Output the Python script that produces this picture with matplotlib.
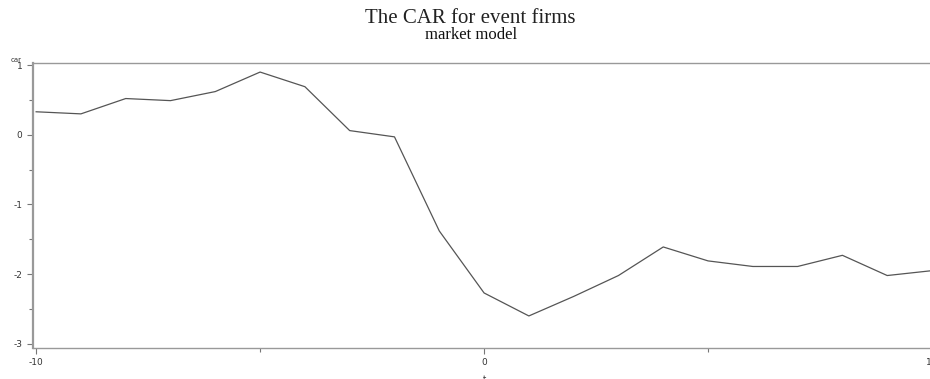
import matplotlib
matplotlib.use('Agg')
import matplotlib.pyplot as plt
from matplotlib.ticker import MultipleLocator

plt.rcParams['axes.unicode_minus'] = False

# event window and cumulative abnormal returns
days = [-10, -9, -8, -7, -6, -5, -4, -3, -2, -1, 0,
        1, 2, 3, 4, 5, 6, 7, 8, 9, 10]
car = [0.33, 0.30, 0.52, 0.49, 0.62, 0.90, 0.69, 0.06, -0.03, -1.38, -2.27,
       -2.60, -2.32, -2.02, -1.61, -1.81, -1.89, -1.89, -1.73, -2.02, -1.95]

title = 'The CAR for event firms'
subtitle = 'market model'

fig = plt.figure(figsize=(9.3, 3.79), dpi=100)
ax = fig.add_axes([33/930, 31/379, 899/930, 285/379])

ax.plot(days, car, color='#555555', lw=0.9)

ax.set_xlim(-10.07, 10)
ax.set_ylim(-3.06, 1.03)

ax.xaxis.set_major_locator(MultipleLocator(10))
ax.xaxis.set_minor_locator(MultipleLocator(5))
ax.yaxis.set_major_locator(MultipleLocator(1))
ax.yaxis.set_minor_locator(MultipleLocator(0.5))

ax.spines['right'].set_visible(False)
for s in ['left', 'bottom', 'top']:
    ax.spines[s].set_color('#999999')
ax.spines['left'].set_linewidth(1.6)
ax.spines['bottom'].set_linewidth(1.0)
ax.spines['top'].set_linewidth(1.0)

ax.tick_params(which='both', colors='#777777', labelcolor='#333333',
               labelsize=6.5, direction='out', length=4, width=0.8)
ax.tick_params(which='minor', length=3)

fig.text(0.506, 0.952, title, ha='center', va='center',
         family='Liberation Serif', fontsize=15, color='#222222')
fig.text(0.506, 0.908, subtitle, ha='center', va='center',
         family='Liberation Serif', fontsize=12, color='#111111')
fig.text(16/930, 1 - 63/379, 'car', ha='center', va='bottom',
         fontsize=5, color='#333333')
fig.text(484/930, -0.012, 't', ha='center', va='bottom',
         fontsize=6, color='#333333')

fig.savefig('out.png', dpi=100)
